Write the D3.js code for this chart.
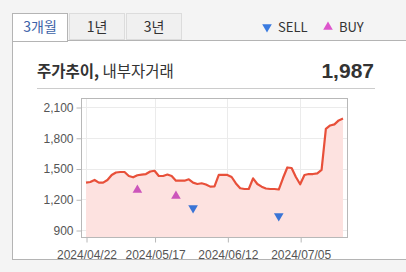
<!DOCTYPE html>
<html>
<head>
<meta charset="utf-8">
<script src="https://cdn.jsdelivr.net/npm/d3@7"></script>
<style>
  body { margin: 0; background: #f4f4f4; font-family: "Noto Sans CJK KR", "Noto Sans", sans-serif; }
  svg text { font-family: "Noto Sans CJK KR", "Noto Sans", sans-serif; }
</style>
</head>
<body>
<div id="chart"></div>
<script>
// tabs and legend
var tabs = ["3개월", "1년", "3년"];
var legendItems = ["SELL", "BUY"];

// closing price per trading day, 2024/04/22 .. 2024/07/19
var prices = [1362, 1368, 1388, 1362, 1362, 1388, 1437, 1461, 1466, 1466,
              1427, 1414, 1434, 1441, 1446, 1471, 1478, 1427, 1427, 1441,
              1427, 1381, 1381, 1381, 1395, 1362, 1349, 1356, 1344, 1323,
              1325, 1437, 1437, 1437, 1417, 1354, 1307, 1300, 1300, 1404,
              1349, 1323, 1305, 1300, 1300, 1295, 1407, 1510, 1505, 1417,
              1346, 1437, 1446, 1446, 1453, 1486, 1886, 1920, 1930, 1969, 1987];

// insider trades (trading day index, price)
var buyIndex = [12, 21];
var buyPrice = [1290, 1232];
var sellIndex = [25, 45];
var sellPrice = [1115, 1037];

// axis ticks
var xTickIndex = [0, 16, 33, 50];
var xTickLabels = ["2024/04/22", "2024/05/17", "2024/06/12", "2024/07/05"];
var yTicks = [900, 1200, 1500, 1800, 2100];

var W = 406, H = 272;
var svg = d3.select("#chart").append("svg")
    .attr("width", W)
    .attr("height", H);

// page background
svg.append("rect").attr("width", W).attr("height", H).attr("fill", "#f4f4f4");

// main panel
svg.append("rect")
    .attr("x", 12.5).attr("y", 40.5)
    .attr("width", 420).attr("height", 219)
    .attr("fill", "#fff").attr("stroke", "#b4b4b4");

// tabs
var tabX = [12, 69, 126], tabW = 56;
tabs.forEach(function(t, i) {
  svg.append("rect")
      .attr("x", tabX[i] + 0.5).attr("y", 13.5)
      .attr("width", tabW - 1).attr("height", i == 0 ? 28 : 26)
      .attr("fill", i == 0 ? "#fff" : "#f0f0f0")
      .attr("stroke", i == 0 ? "#b4b4b4" : "#dcdcdc");
  svg.append("text")
      .attr("x", tabX[i] + tabW / 2).attr("y", 32)
      .attr("text-anchor", "middle")
      .style("font-size", "14px")
      .attr("fill", i == 0 ? "#3d63a8" : "#333")
      .text(t);
});
// cover the border under active tab
svg.append("line").attr("x1", 13).attr("x2", 67).attr("y1", 40.5).attr("y2", 40.5)
    .attr("stroke", "#fff");

// legend
var sym = d3.symbol().type(d3.symbolTriangle).size(40);
svg.append("path").attr("d", sym)
    .attr("transform", "translate(267,27) rotate(180)")
    .attr("fill", "#3a7be0");
svg.append("text").attr("x", 278).attr("y", 32)
    .style("font-size", "13px").attr("fill", "#333").text(legendItems[0]);
svg.append("path").attr("d", sym)
    .attr("transform", "translate(328,27)")
    .attr("fill", "#dd55cc");
svg.append("text").attr("x", 339).attr("y", 32)
    .style("font-size", "13px").attr("fill", "#333").text(legendItems[1]);

// title
var title = svg.append("text").attr("x", 37).attr("y", 77)
    .style("font-size", "15.5px").attr("fill", "#333");
title.append("tspan").style("font-weight", "bold").text("주가추이,");
title.append("tspan").text(" 내부자거래");

svg.append("text").attr("x", 374).attr("y", 78)
    .attr("text-anchor", "end")
    .style("font-size", "21px").style("font-weight", "bold")
    .style("font-family", "'Liberation Sans', Arial, sans-serif")
    .attr("fill", "#333")
    .text(d3.format(",")(prices[prices.length - 1]));

svg.append("line").attr("x1", 37).attr("x2", 375).attr("y1", 88.5).attr("y2", 88.5)
    .attr("stroke", "#ccc");

// plot box
var box = {left: 81, right: 347, top: 98, bottom: 237};

var x = d3.scaleLinear().domain([0, prices.length - 1]).range([86, 343]);
var y = d3.scaleLinear().domain([900, 2100]).range([230, 107]);

var plot = svg.append("g");

// gridlines
plot.selectAll(".hgrid").data(yTicks).enter().append("line")
    .attr("x1", box.left).attr("x2", box.right)
    .attr("y1", function(d) { return Math.round(y(d)) + 0.5; })
    .attr("y2", function(d) { return Math.round(y(d)) + 0.5; })
    .attr("stroke", "#ebebeb");
plot.selectAll(".vgrid").data(xTickIndex).enter().append("line")
    .attr("y1", box.top).attr("y2", box.bottom)
    .attr("x1", function(d) { return Math.round(x(d)) + 0.5; })
    .attr("x2", function(d) { return Math.round(x(d)) + 0.5; })
    .attr("stroke", "#ebebeb");

// area and line
var area = d3.area()
    .x(function(d, i) { return x(i); })
    .y0(box.bottom)
    .y1(function(d) { return y(d); });
var line = d3.line()
    .x(function(d, i) { return x(i); })
    .y(function(d) { return y(d); });

plot.append("path").datum(prices).attr("d", area).attr("fill", "#fde2e0");
plot.append("path").datum(prices).attr("d", line)
    .attr("fill", "none").attr("stroke", "#e8503a").attr("stroke-width", 2.2)
    .attr("stroke-linejoin", "round");

// trade markers
var msym = d3.symbol().type(d3.symbolTriangle).size(40);
buyIndex.forEach(function(d, i) {
  plot.append("path").attr("d", msym)
      .attr("transform", "translate(" + x(d) + "," + y(buyPrice[i]) + ")")
      .attr("fill", "#cc55bb");
});
sellIndex.forEach(function(d, i) {
  plot.append("path").attr("d", msym)
      .attr("transform", "translate(" + x(d) + "," + y(sellPrice[i]) + ") rotate(180)")
      .attr("fill", "#3a74d6");
});

// box border
plot.append("rect")
    .attr("x", box.left + 0.5).attr("y", box.top + 0.5)
    .attr("width", box.right - box.left).attr("height", box.bottom - box.top)
    .attr("fill", "none").attr("stroke", "#b8b8b8");

// y axis
var yAxis = d3.axisLeft(y).tickValues(yTicks).tickSize(5).tickFormat(d3.format(","));
svg.append("g")
    .attr("transform", "translate(" + (box.left + 0.5) + ",0.5)")
    .call(yAxis)
    .call(function(g) {
      g.select(".domain").remove();
      g.selectAll("line").attr("stroke", "#b8b8b8");
      g.selectAll("text").attr("fill", "#555")
          .style("font-size", "12px")
          .style("font-family", "'Liberation Sans', Arial, sans-serif");
    });

// x axis
var xAxis = d3.axisBottom(x).tickValues(xTickIndex).tickSize(5)
    .tickFormat(function(d, i) { return xTickLabels[i]; });
svg.append("g")
    .attr("transform", "translate(0.5," + (box.bottom + 0.5) + ")")
    .call(xAxis)
    .call(function(g) {
      g.select(".domain").remove();
      g.selectAll("line").attr("stroke", "#b8b8b8");
      g.selectAll("text").attr("fill", "#555")
          .attr("dy", "1.1em")
          .style("font-size", "12px")
          .style("font-family", "'Liberation Sans', Arial, sans-serif");
    });
</script>
</body>
</html>
